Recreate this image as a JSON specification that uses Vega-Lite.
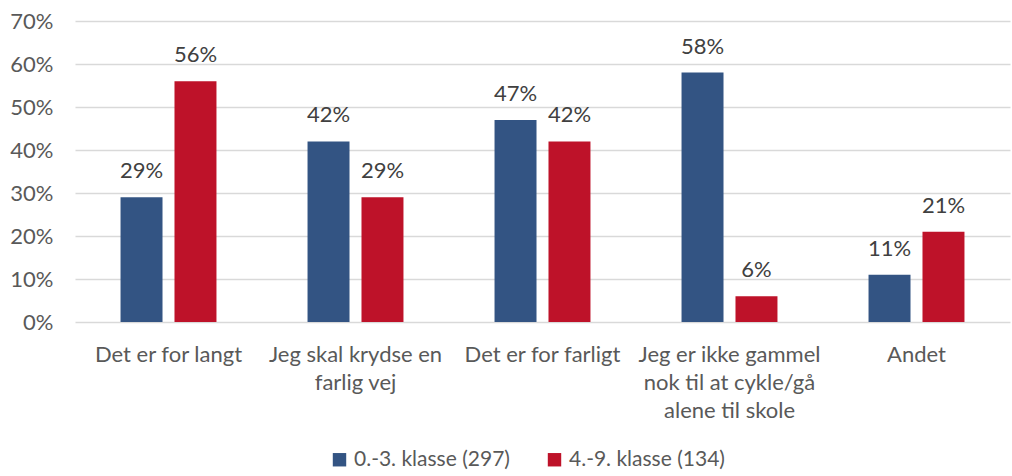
{
  "$schema": "https://vega.github.io/schema/vega-lite/v6.json",
  "width": 935,
  "height": 301,
  "autosize": {"type": "none"},
  "padding": {"left": 75, "top": 21, "right": 2, "bottom": 154},
  "background": "white",
  "data": {
    "values": [
      {"cat": "Det er for langt", "grp": "0.-3. klasse (297)", "v": 0.29},
      {"cat": "Det er for langt", "grp": "4.-9. klasse (134)", "v": 0.56},
      {"cat": "Jeg skal krydse en|farlig vej", "grp": "0.-3. klasse (297)", "v": 0.42},
      {"cat": "Jeg skal krydse en|farlig vej", "grp": "4.-9. klasse (134)", "v": 0.29},
      {"cat": "Det er for farligt", "grp": "0.-3. klasse (297)", "v": 0.47},
      {"cat": "Det er for farligt", "grp": "4.-9. klasse (134)", "v": 0.42},
      {"cat": "Jeg er ikke gammel|nok til at cykle/gå|alene til skole", "grp": "0.-3. klasse (297)", "v": 0.58},
      {"cat": "Jeg er ikke gammel|nok til at cykle/gå|alene til skole", "grp": "4.-9. klasse (134)", "v": 0.06},
      {"cat": "Andet", "grp": "0.-3. klasse (297)", "v": 0.11},
      {"cat": "Andet", "grp": "4.-9. klasse (134)", "v": 0.21}
    ]
  },
  "encoding": {
    "x": {
      "field": "cat", "type": "nominal", "sort": null, "title": null,
      "scale": {"paddingInner": 0.487, "paddingOuter": 0.2435},
      "axis": {"labelAngle": 0, "domain": false, "ticks": false, "labelPadding": 32,
               "labelExpr": "split(datum.label, '|')", "labelLineHeight": 28,
               "labelFontSize": 22, "labelColor": "#595959", "labelFont": "Lato", "labelBaseline": "middle", "labelLimit": 300}
    },
    "xOffset": {"field": "grp", "type": "nominal", "scale": {"paddingInner": 0.222}},
    "y": {
      "field": "v", "type": "quantitative", "title": null,
      "scale": {"domain": [0, 0.7], "nice": false},
      "axis": {"format": ".0%", "values": [0,0.1,0.2,0.3,0.4,0.5,0.6,0.7], "labelOverlap": false, "domain": false, "ticks": false,
               "labelPadding": 22, "labelFontSize": 22, "labelColor": "#595959", "labelFont": "Lato",
               "gridColor": "#D9D9D9", "gridWidth": 1.5}
    },
    "color": {
      "field": "grp", "type": "nominal", "title": null,
      "scale": {"range": ["#335483", "#BE1229"]},
      "legend": {"orient": "none", "legendX": 254, "legendY": 428, "direction": "horizontal", "symbolType": "square", "symbolSize": 180,
                 "symbolStrokeWidth": 0, "labelFontSize": 21, "labelFont": "Lato", "labelColor": "#595959", "labelLimit": 400,
                 "columnPadding": 34, "labelOffset": 4}
    }
  },
  "layer": [
    {"mark": {"type": "bar"}},
    {"mark": {"type": "text", "baseline": "middle", "dy": -26, "fontSize": 22, "font": "Lato"},
     "encoding": {"text": {"field": "v", "type": "quantitative", "format": ".0%"}, "color": {"value": "#404040"}}}
  ],
  "config": {"view": {"stroke": null}}
}
